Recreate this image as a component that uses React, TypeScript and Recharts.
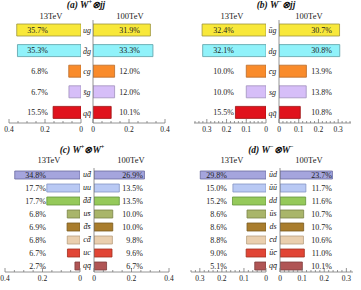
import React from 'react';
import { BarChart, Bar, XAxis, YAxis, Cell, LabelList } from 'recharts';

const FONT = "'Liberation Serif','Times New Roman',serif";

// ---- data ----
const catsA = ['ug', 'd\u0304g', 'cg', 's\u0304g', 'qq\u0304'];
const a13 = [0.357, 0.353, 0.068, 0.067, 0.155];
const a100 = [0.319, 0.333, 0.12, 0.12, 0.101];

const catsB = ['u\u0304g', 'dg', 'c\u0304g', 'sg', 'qq\u0304'];
const b13 = [0.324, 0.321, 0.1, 0.1, 0.155];
const b100 = [0.307, 0.308, 0.139, 0.138, 0.108];

const catsC = ['ud\u0304', 'uu', 'd\u0304d\u0304', 'us\u0304', 'd\u0304s\u0304', 'cd\u0304', 'uc', 'qq\u0304'];
const c13 = [0.348, 0.177, 0.177, 0.068, 0.069, 0.068, 0.067, 0.027];
const c100 = [0.269, 0.135, 0.135, 0.1, 0.1, 0.098, 0.096, 0.067];

const catsD = ['u\u0304d', 'u\u0304u\u0304', 'dd', 'u\u0304s', 'ds', 'c\u0304d', 'u\u0304c\u0304', 'qq\u0304'];
const d13 = [0.298, 0.15, 0.152, 0.086, 0.086, 0.088, 0.09, 0.051];
const d100 = [0.237, 0.117, 0.116, 0.107, 0.107, 0.106, 0.11, 0.101];

const majors02 = [0, 0.2, 0.4];
const majors01 = [0, 0.1, 0.2, 0.3];

// ---- styles ----
const colorsJJ = ['#f8e83a', '#90f2fa', '#f98b2b', '#d6bef8', '#e0121c'];
const strokesJJ = ['#9c9440', '#5a9ea6', '#b86a28', '#a090bc', '#9a1010'];
const colorsWW = ['#a5a5dd', '#b9c9f4', '#95c95a', '#a9b56a', '#a97d2d', '#eacfae', '#e14535', '#b05555'];
const strokesWW = ['#6a6aa0', '#8494c4', '#66963c', '#7a8446', '#7a5a20', '#b8a080', '#a03020', '#7e3c3c'];
const axisColor = '#7a7a7a';
const textColor = '#222';

function buildTicks(max: number, step: number) {
  const t: number[] = [];
  for (let i = 0; i * step <= max + 1e-9; i++) t.push(+(i * step).toFixed(3));
  return t;
}

function fmt(v: number) {
  return String(+v.toFixed(2));
}

type Geo = {
  x0L: number; x0R: number; wL: number; wR: number; maxL: number; maxR: number;
  majors: number[]; step: number; top: number; axisY: number; barSize: number;
  labL: number; labR: number; title: React.ReactNode; titleX: number; titleY: number;
  tevLX: number; tevRX: number; tevY: number;
};

const XTick = (props: any) => {
  const { x, y, payload, majors } = props;
  const v = payload.value;
  const major = majors.some((m: number) => Math.abs(m - v) < 1e-9);
  return (
    <g>
      <line x1={x} x2={x} y1={y} y2={y - (major ? 4 : 2)} stroke={axisColor} strokeWidth={0.8} />
      {major && (
        <text x={x} y={y + 8.5} textAnchor="middle" fontSize={7.5} fontFamily={FONT} fill={textColor}>
          {fmt(v)}
        </text>
      )}
    </g>
  );
};

function Panel({ g, cats, v13, v100, colors, strokes }: { g: Geo; cats: string[]; v13: number[]; v100: number[]; colors: string[]; strokes: string[] }) {
  const rowsL = cats.map((c, i) => ({ cat: c, v: v13[i] }));
  const rowsR = cats.map((c, i) => ({ cat: c, v: v100[i] }));
  const gap = g.x0R - g.x0L;
  const h = g.axisY + 14;
  const leftOrigin = g.x0L - g.wL;
  const labelL = (p: any) => {
    const vb = p.viewBox || p;
    const y = vb.y + vb.height / 2;
    return (
      <text x={g.labL - leftOrigin} y={y} dy="0.35em" textAnchor="end" fontSize={8} fontFamily={FONT} fill={textColor}>
        {(p.value * 100).toFixed(1)}%
      </text>
    );
  };
  const labelR = (p: any) => {
    const vb = p.viewBox || p;
    const y = vb.y + vb.height / 2;
    return (
      <text x={g.labR - g.x0L} y={y} dy="0.35em" textAnchor="end" fontSize={8} fontFamily={FONT} fill={textColor}>
        {(p.value * 100).toFixed(1)}%
      </text>
    );
  };
  const catTick = (p: any) => (
    <text x={p.x - gap / 2} y={p.y} dy="0.35em" textAnchor="middle" fontSize={8} fontStyle="italic" fontFamily={FONT} fill={textColor}>
      {p.payload.value}
    </text>
  );
  return (
    <>
      <div style={{ position: 'absolute', left: leftOrigin, top: 0 }}>
        <BarChart width={g.wL} height={h} layout="vertical" data={rowsL} margin={{ top: g.top, right: 0, bottom: 0, left: 0 }}>
          <XAxis
            type="number"
            domain={[0, g.maxL]}
            reversed
            allowDataOverflow
            ticks={buildTicks(g.maxL, g.step)}
            interval={0}
            tickSize={0}
            tickMargin={0}
            tickLine={false}
            height={14}
            axisLine={{ stroke: axisColor, strokeWidth: 0.8 }}
            tick={(p: any) => <XTick {...p} majors={g.majors} />}
          />
          <YAxis type="category" dataKey="cat" orientation="right" width={0} tick={false} tickLine={false} axisLine={{ stroke: axisColor, strokeWidth: 0.8 }} />
          <Bar dataKey="v" barSize={g.barSize} isAnimationActive={false}>
            {rowsL.map((_, i) => (
              <Cell key={i} fill={colors[i]} stroke={strokes[i]} strokeWidth={0.8} />
            ))}
            <LabelList dataKey="v" content={labelL} />
          </Bar>
        </BarChart>
      </div>
      <div style={{ position: 'absolute', left: g.x0L, top: 0 }}>
        <BarChart width={gap + g.wR} height={h} layout="vertical" data={rowsR} margin={{ top: g.top, right: 0, bottom: 0, left: 0 }}>
          <XAxis
            type="number"
            domain={[0, g.maxR]}
            allowDataOverflow
            ticks={buildTicks(g.maxR, g.step)}
            interval={0}
            tickSize={0}
            tickMargin={0}
            tickLine={false}
            height={14}
            axisLine={{ stroke: axisColor, strokeWidth: 0.8 }}
            tick={(p: any) => <XTick {...p} majors={g.majors} />}
          />
          <YAxis type="category" dataKey="cat" orientation="left" width={gap} tickSize={0} tickMargin={0} tickLine={false} axisLine={{ stroke: axisColor, strokeWidth: 0.8 }} tick={catTick} interval={0} />
          <Bar dataKey="v" barSize={g.barSize} isAnimationActive={false}>
            {rowsR.map((_, i) => (
              <Cell key={i} fill={colors[i]} stroke={strokes[i]} strokeWidth={0.8} />
            ))}
            <LabelList dataKey="v" content={labelR} />
          </Bar>
        </BarChart>
      </div>
      <div style={{ position: 'absolute', left: g.titleX - 60, width: 120, top: g.titleY - 6, lineHeight: '12px', textAlign: 'center', fontFamily: FONT, fontStyle: 'italic', fontWeight: 'bold', fontSize: 9.5, color: '#111', whiteSpace: 'nowrap' }}>
        {g.title}
      </div>
      <div style={{ position: 'absolute', left: g.tevLX - 30, width: 60, top: g.tevY - 6, lineHeight: '12px', textAlign: 'center', fontFamily: FONT, fontSize: 8.5, color: textColor }}>
        13TeV
      </div>
      <div style={{ position: 'absolute', left: g.tevRX - 30, width: 60, top: g.tevY - 6, lineHeight: '12px', textAlign: 'center', fontFamily: FONT, fontSize: 8.5, color: textColor }}>
        100TeV
      </div>
    </>
  );
}

const supStyle: React.CSSProperties = { fontSize: '65%', verticalAlign: 'super', lineHeight: 0 };

const geoA: Geo = {
  x0L: 81, x0R: 93, wL: 72, wR: 72, maxL: 0.4, maxR: 0.4, majors: majors02, step: 0.05,
  top: 20, axisY: 123, barSize: 12, labL: 48, labR: 140,
  title: <span>(a) W<span style={supStyle}>+</span>⊗jj</span>, titleX: 86, titleY: 5, tevLX: 51, tevRX: 130, tevY: 16,
};
const geoB: Geo = {
  x0L: 266, x0R: 279, wL: 72, wR: 72, maxL: 0.365, maxR: 0.365, majors: majors01, step: 0.02,
  top: 20, axisY: 123, barSize: 12, labL: 234, labR: 332,
  title: <span>(b) W<span style={supStyle}>−</span>⊗jj</span>, titleX: 276, titleY: 5, tevLX: 232, tevRX: 309, tevY: 16,
};
const geoC: Geo = {
  x0L: 80, x0R: 94, wL: 75, wR: 75, maxL: 0.4, maxR: 0.4, majors: majors02, step: 0.05,
  top: 168, axisY: 272, barSize: 8, labL: 46, labR: 143,
  title: <span>(c) W<span style={supStyle}>+</span>⊗W<span style={supStyle}>+</span></span>, titleX: 82, titleY: 150, tevLX: 49, tevRX: 131, tevY: 160,
};
const geoD: Geo = {
  x0L: 266, x0R: 280, wL: 75, wR: 73, maxL: 0.34, maxR: 0.33, majors: majors01, step: 0.02,
  top: 168, axisY: 272, barSize: 8, labL: 227, labR: 332,
  title: <span>(d) W<span style={supStyle}>−</span>⊗W<span style={supStyle}>−</span></span>, titleX: 271, titleY: 150, tevLX: 232, tevRX: 309, tevY: 160,
};

export default function App() {
  return (
    <div style={{ position: 'absolute', left: 0, top: 0, width: 361, height: 290, background: '#fff', overflow: 'hidden' }}>
      <style>{`.recharts-surface{overflow:visible}`}</style>
      <Panel g={geoA} cats={catsA} v13={a13} v100={a100} colors={colorsJJ} strokes={strokesJJ} />
      <Panel g={geoB} cats={catsB} v13={b13} v100={b100} colors={colorsJJ} strokes={strokesJJ} />
      <Panel g={geoC} cats={catsC} v13={c13} v100={c100} colors={colorsWW} strokes={strokesWW} />
      <Panel g={geoD} cats={catsD} v13={d13} v100={d100} colors={colorsWW} strokes={strokesWW} />
    </div>
  );
}
